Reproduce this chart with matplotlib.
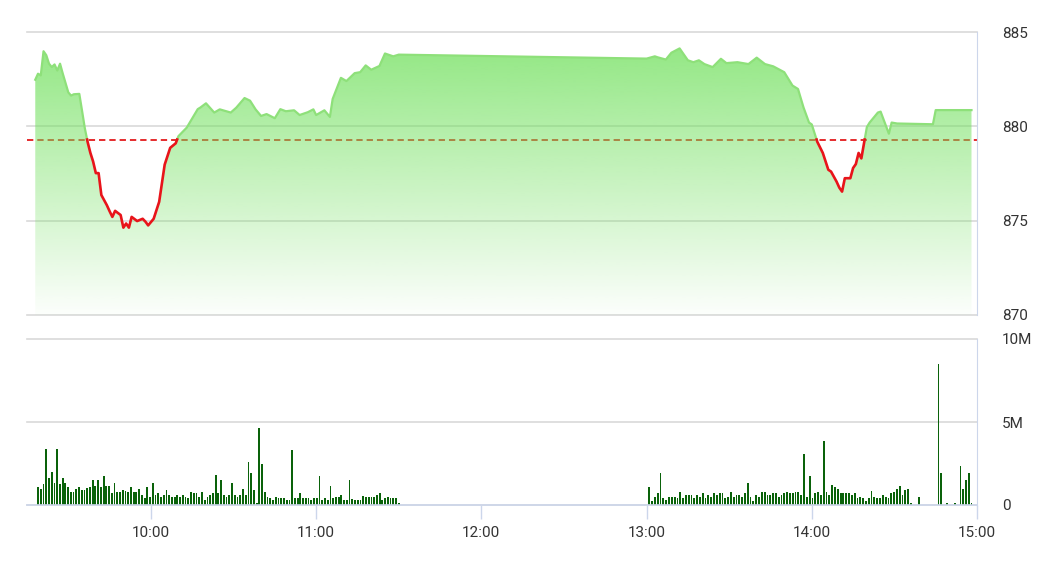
import numpy as np
import matplotlib
matplotlib.use('Agg')
import matplotlib.pyplot as plt

plt.rcParams['font.family'] = ['Roboto', 'DejaVu Sans']

# reference (previous close) level
REF = 879.3

# intraday index, morning session
am_time = ['09:18', '09:19', '09:20', '09:21', '09:22', '09:23', '09:24', '09:25', '09:26', '09:27',
           '09:28', '09:30', '09:31', '09:32', '09:34', '09:35', '09:36', '09:37', '09:38', '09:39',
           '09:40', '09:41', '09:42', '09:44', '09:45', '09:46', '09:47', '09:49', '09:50', '09:51',
           '09:52', '09:53', '09:55', '09:57', '09:58', '09:59', '10:01', '10:03', '10:05', '10:07',
           '10:09', '10:10', '10:13', '10:17', '10:18', '10:20', '10:23', '10:25', '10:29', '10:31',
           '10:34', '10:36', '10:38', '10:40', '10:42', '10:45', '10:47', '10:49', '10:52', '10:54',
           '10:57', '10:59', '11:00', '11:03', '11:05', '11:06', '11:09', '11:11', '11:14', '11:16',
           '11:18', '11:20', '11:23', '11:25', '11:28', '11:30']
am_price = [882.47, 882.79, 882.70, 883.98, 883.77, 883.32, 883.14, 883.28, 882.96, 883.32,
            882.79, 881.80, 881.63, 881.70, 881.72, 880.82, 879.90, 879.18, 878.60, 878.14,
            877.52, 877.52, 876.36, 875.82, 875.50, 875.20, 875.52, 875.30, 874.63, 874.85,
            874.63, 875.20, 874.98, 875.10, 874.95, 874.75, 875.10, 876.00, 877.97, 878.86,
            879.10, 879.48, 879.93, 880.91, 881.00, 881.22, 880.73, 880.90, 880.73, 880.99,
            881.50, 881.36, 880.90, 880.55, 880.65, 880.43, 880.91, 880.80, 880.85, 880.60,
            880.75, 880.90, 880.60, 880.85, 880.50, 881.45, 882.57, 882.40, 882.82, 882.87,
            883.23, 883.00, 883.20, 883.86, 883.71, 883.80]

# afternoon session
pm_time = ['13:00', '13:03', '13:04', '13:07', '13:09', '13:12', '13:15', '13:17', '13:19', '13:21',
           '13:24', '13:27', '13:29', '13:33', '13:37', '13:40', '13:43', '13:46', '13:50', '13:53',
           '13:55', '13:57', '13:59', '14:00', '14:02', '14:04', '14:06', '14:07', '14:09', '14:10',
           '14:11', '14:12', '14:14', '14:15', '14:16', '14:17', '14:18', '14:20', '14:21', '14:24',
           '14:25', '14:28', '14:29', '14:31', '14:44', '14:45', '14:58']
pm_price = [883.59, 883.71, 883.66, 883.54, 883.90, 884.13, 883.50, 883.40, 883.50, 883.30,
            883.14, 883.58, 883.35, 883.40, 883.30, 883.64, 883.30, 883.18, 882.87, 882.16,
            881.98, 881.00, 880.20, 880.10, 879.18, 878.59, 877.70, 877.60, 877.07, 876.75,
            876.54, 877.25, 877.25, 877.79, 878.00, 878.59, 878.30, 879.96, 880.20, 880.73,
            880.78, 879.61, 880.20, 880.15, 880.11, 880.86, 880.86]

# volume (millions), continuous trading bars
vol_am_start, vol_am_end = '09:19', '11:30'
vol_am = [1.1, 0.96, 1.27, 3.35, 1.65, 1.97, 1.3, 3.35, 1.27, 1.65, 1.3, 1.1, 0.8, 0.8, 0.95, 1.1,
          0.9, 0.9, 1.0, 1.1, 1.5, 1.15, 1.5, 1.1, 1.75, 1.15, 1.15, 0.75, 1.3, 0.8, 0.8, 0.9, 0.86,
          0.8, 1.1, 0.8, 0.8, 0.95, 0.6, 0.4, 1.1, 0.5, 1.3, 0.6, 0.7, 0.5, 0.6, 0.9, 0.6, 0.5, 0.5,
          0.6, 0.5, 0.6, 0.5, 0.4, 0.8, 0.7, 0.7, 0.5, 0.8, 0.3, 0.5, 0.6, 0.7, 1.8, 0.7, 1.5, 0.6,
          0.5, 0.6, 1.3, 0.6, 0.5, 0.6, 0.95, 0.6, 2.6, 1.9, 0.9, 0.1, 4.66, 2.47, 0.76, 0.5, 0.4,
          0.3, 0.5, 0.4, 0.4, 0.4, 0.3, 0.3, 3.3, 0.4, 0.4, 0.7, 0.4, 0.4, 0.4, 0.3, 0.4, 0.4, 1.75,
          0.3, 0.4, 0.3, 1.15, 0.4, 0.5, 0.5, 0.6, 0.3, 0.3, 1.5, 0.35, 0.3, 0.3, 0.3, 0.56, 0.5,
          0.5, 0.5, 0.5, 0.6, 0.75, 0.3, 0.4, 0.5, 0.4, 0.4, 0.4, 0.1]
vol_pm_start, vol_pm_end = '13:01', '14:36'
vol_pm = [1.1, 0.26, 0.5, 0.75, 1.95, 0.4, 0.3, 0.5, 0.5, 0.46, 0.4, 0.8, 0.4, 0.6, 0.6, 0.6, 0.4,
          0.6, 0.5, 0.7, 0.4, 0.6, 0.5, 0.7, 0.6, 0.7, 0.7, 0.4, 0.5, 0.76, 0.5, 0.6, 0.6, 0.5, 0.74,
          1.3, 0.5, 0.26, 0.6, 0.5, 0.76, 0.76, 0.6, 0.6, 0.7, 0.7, 0.5, 0.6, 0.7, 0.76, 0.7, 0.7,
          0.76, 0.76, 0.6, 3.1, 0.5, 1.75, 0.4, 0.74, 0.76, 0.6, 3.85, 0.76, 0.6, 1.2, 1.1, 0.95,
          0.7, 0.7, 0.7, 0.7, 0.6, 0.7, 0.4, 0.5, 0.4, 0.26, 0.4, 0.86, 0.5, 0.4, 0.4, 0.6, 0.5, 0.4,
          0.7, 0.76, 0.95, 1.15, 0.6, 0.9, 0.95, 0.1]
# closing auction / late trades
vol_late_time = ['14:39', '14:46', '14:47', '14:49', '14:52', '14:54', '14:55', '14:56', '14:57', '14:58']
vol_late = [0.5, 8.5, 1.95, 0.1, 0.1, 2.35, 0.95, 1.5, 1.95, 0.1]

x_ticks = ['10:00', '11:00', '12:00', '13:00', '14:00', '15:00']
price_ticks = [870, 875, 880, 885]
vol_ticks = [0, 5, 10]
vol_tick_labels = ['0', '5M', '10M']


def hrs(s):
    h, m = s.split(':')
    return int(h) + int(m) / 60.0


def split_at_ref(t, p, ref):
    # add the crossing points so the red part starts right on the ref line
    tt, pp = [t[0]], [p[0]]
    for i in range(1, len(t)):
        if (p[i - 1] - ref) * (p[i] - ref) < 0:
            f = (ref - p[i - 1]) / (p[i] - p[i - 1])
            tt.append(t[i - 1] + f * (t[i] - t[i - 1]))
            pp.append(ref)
        tt.append(t[i])
        pp.append(p[i])
    return np.array(tt), np.array(pp)


t = np.array([hrs(s) for s in am_time + pm_time])
p = np.array(am_price + pm_price)
tt, pp = split_at_ref(t, p, REF)

GRID = '#d9d9d9'
AXIS = '#ccd6eb'
TXT = '#333333'
XMIN, XMAX = 9.25, 15.0

fig = plt.figure(figsize=(10.45, 5.87), dpi=100)
ax = fig.add_axes([27 / 1045, 1 - 315 / 587, 950 / 1045, 283 / 587])
ax2 = fig.add_axes([27 / 1045, 1 - 505 / 587, 950 / 1045, 166 / 587])

# gradient area under the line
green = np.array([112, 224, 92]) / 255.0
top = p.max()
grad = np.zeros((256, 1, 4))
grad[:, 0, :3] = green
grad[:, 0, 3] = np.linspace(0.75, 0.02, 256)
im = ax.imshow(grad, extent=[tt.min(), tt.max(), 870, top], aspect='auto',
               origin='upper', zorder=2, interpolation='bilinear')
poly = ax.fill_between(tt, pp, 870, facecolor='none', edgecolor='none')
im.set_clip_path(poly.get_paths()[0], transform=ax.transData)

ax.axhline(REF, color='#e31a1c', lw=1.3, dashes=(3.5, 2.2), zorder=1.5)
ax.plot(tt, np.where(pp >= REF, pp, np.nan), color='#8ee07a', lw=1.6, zorder=3)
ax.plot(tt, np.where(pp <= REF, pp, np.nan), color='#e8141a', lw=1.9, zorder=3)

ax.set_xlim(XMIN, XMAX)
ax.set_ylim(870, 885)
ax.set_yticks(price_ticks)
ax.yaxis.tick_right()
ax.tick_params(axis='y', length=0, pad=18, labelsize=11, labelcolor=TXT)
ax.tick_params(axis='x', length=0, labelbottom=False)
ax.grid(axis='y', color=GRID, lw=1.2, zorder=0)
for gl in ax.get_ygridlines():
    gl.set_clip_on(False)
for s in ['top', 'left', 'bottom']:
    ax.spines[s].set_visible(False)
ax.spines['right'].set_color(AXIS)
ax.set_axisbelow(True)

# volume panel
am_x = np.linspace(hrs(vol_am_start), hrs(vol_am_end), len(vol_am))
pm_x = np.linspace(hrs(vol_pm_start), hrs(vol_pm_end), len(vol_pm))
late_x = np.array([hrs(s) for s in vol_late_time])
vx = np.concatenate([am_x, pm_x, late_x])
vy = np.array(vol_am + vol_pm + vol_late)
ax2.bar(vx, vy, width=0.011, color='#0a620a', linewidth=0, zorder=2)

ax2.set_xlim(XMIN, XMAX)
ax2.set_ylim(0, 10)
ax2.set_yticks(vol_ticks)
ax2.set_yticklabels(vol_tick_labels)
ax2.yaxis.tick_right()
ax2.tick_params(axis='y', length=0, pad=18, labelsize=11, labelcolor=TXT)
ax2.set_xticks([hrs(s) for s in x_ticks])
ax2.set_xticklabels(x_ticks)
ax2.tick_params(axis='x', length=10, width=1, color=AXIS, pad=5, labelsize=11, labelcolor=TXT)
ax2.grid(axis='y', color=GRID, lw=1.2, zorder=0)
for gl in ax2.get_ygridlines():
    gl.set_clip_on(False)
for s in ['top', 'left']:
    ax2.spines[s].set_visible(False)
ax2.spines['right'].set_color(AXIS)
ax2.spines['bottom'].set_color(AXIS)
ax2.spines['bottom'].set_linewidth(1.2)
ax2.set_axisbelow(True)

fig.savefig('out.png', dpi=100)
